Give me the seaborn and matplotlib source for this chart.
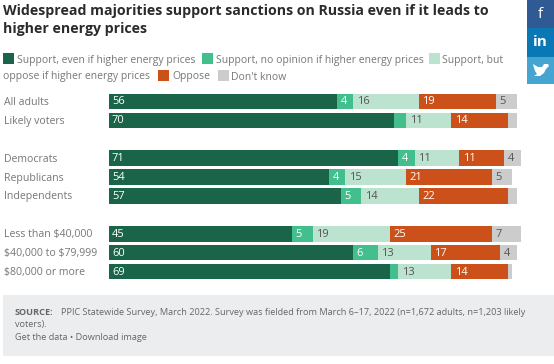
import matplotlib
matplotlib.use('Agg')
import matplotlib.pyplot as plt
from matplotlib.patches import Rectangle, Polygon
import seaborn as sns

# rows, blanks keep the gaps between the groups
rows = ['All adults', 'Likely voters', ' ', 'Democrats', 'Republicans', 'Independents', '  ',
        'Less than 40k', '40k to 80k', '80k or more']
labels_rows = [r for r in rows if r.strip()]
row_text = ['All adults', 'Likely voters', 'Democrats', 'Republicans', 'Independents',
            r'Less than \$40,000', r'\$40,000 to \$79,999', r'\$80,000 or more']

support_even = [56, 70, 71, 54, 57, 45, 60, 69]
support_no_opinion = [4, 3, 4, 4, 5, 5, 6, 2]
support_oppose = [16, 11, 11, 15, 14, 19, 13, 13]
oppose = [19, 14, 11, 21, 22, 25, 17, 14]
dont_know = [5, 2, 4, 5, 2, 7, 4, 1]

series = [support_even, support_no_opinion, support_oppose, oppose, dont_know]
colors = ['#1a6449', '#43bf8d', '#bce3d0', '#cc5019', '#cccccc']
label_colors = ['white', 'white', '#555555', 'white', '#555555']
MIN_LABEL = 4

W, H = 554, 364
sns.set_theme(style='white')
plt.rcParams['font.family'] = ['Open Sans', 'DejaVu Sans']
fig = plt.figure(figsize=(W / 100, H / 100), dpi=100)

# overlay in pixel coordinates for the page furniture
page = fig.add_axes([0, 0, 1, 1])
page.set_xlim(0, W)
page.set_ylim(H, 0)
page.axis('off')

# chart axes: value 0 at x=108.5, 4.08 px per point, rows 18.9 px apart
x0, x1 = 108.5, 108.5 + 4.08 * 105
y_top, y_bot = 92.0, 92.0 + 18.9 * 10
ax = fig.add_axes([x0 / W, 1 - y_bot / H, (x1 - x0) / W, (y_bot - y_top) / H])
ax.patch.set_alpha(0)

lefts = [0] * len(labels_rows)
for vals, c, lc in zip(series, colors, label_colors):
    sns.barplot(y=labels_rows, x=vals, order=rows, left=lefts, color=c, saturation=1,
                width=0.83, orient='y', linewidth=0, ax=ax)
    for name, v, l in zip(labels_rows, vals, lefts):
        if v >= MIN_LABEL:
            ax.annotate(str(v), (l, rows.index(name)), xytext=(3.5, -0.5), textcoords='offset pixels',
                        color=lc, fontsize=8, va='center', ha='left')
    lefts = [l + v for l, v in zip(lefts, vals)]

ax.set_xlim(0, 105)
ax.set_ylim(9.5, -0.5)
ax.set_xlabel('')
ax.set_ylabel('')
ax.set_xticks([])
ax.set_yticks([])
sns.despine(ax=ax, left=True, bottom=True)
for name, s in zip(labels_rows, row_text):
    page.text(4, y_top + 18.9 * (rows.index(name) + 0.5) + 1, s, color='#777777', fontsize=7.6, va='center')

# title
page.text(3, 10.5, 'Widespread majorities support sanctions on Russia even if it leads to',
          fontsize=10.2, fontweight='bold', color='#2b2b2b', va='center')
page.text(3, 29.5, 'higher energy prices', fontsize=10.2, fontweight='bold', color='#2b2b2b', va='center')

# legend wraps in mid entry, so it is placed by hand
for sx, sy, c in [(3, 59, colors[0]), (202, 59, colors[1]), (429, 59, colors[2]),
                  (158, 76, colors[3]), (218, 76, colors[4])]:
    page.add_patch(Rectangle((sx, sy - 6), 11, 11, color=c, lw=0))
for tx, ty, s in [(17, 60.5, 'Support, even if higher energy prices'),
                  (216, 60.5, 'Support, no opinion if higher energy prices'),
                  (442, 60.5, 'Support, but'),
                  (3, 77, 'oppose if higher energy prices'),
                  (172, 77, 'Oppose'),
                  (231, 77, "Don't know")]:
    page.text(tx, ty, s, color='#777777', fontsize=7.45, va='center')

# source box
page.add_patch(Rectangle((3, 295), 551, 61, color='#ecedef', lw=0))
page.text(15, 312.5, 'SOURCE:', fontsize=6.6, fontweight='bold', color='#666666', va='center')
page.text(61, 312.5, 'PPIC Statewide Survey, March 2022. Survey was fielded from March 6–17, 2022 (n=1,672 adults, n=1,203 likely',
          fontsize=6.6, color='#666666', va='center')
page.text(15, 325, 'voters).', fontsize=6.6, color='#666666', va='center')
page.text(15, 338, 'Get the data • Download image', fontsize=6.6, color='#666666', va='center')

# share buttons
page.add_patch(Rectangle((527, 0), 27, 28, color='#2f5a94', lw=0))
page.add_patch(Rectangle((527, 28), 27, 29, color='#0a78b5', lw=0))
page.add_patch(Rectangle((527, 57), 27, 27, color='#45a4d0', lw=0))
page.text(540, 14.5, 'f', color='white', fontsize=11, ha='center', va='center')
page.text(540, 42.5, 'in', color='white', fontsize=11, fontweight='bold', ha='center', va='center')
page.add_patch(Polygon([(533, 64), (538, 67), (542, 67), (544, 64), (548, 64), (549, 66), (546, 69),
                        (544, 73), (540, 76), (534, 76), (537, 74), (535, 71), (534, 68)], color='white', lw=0))

fig.savefig('out.png', dpi=100)
